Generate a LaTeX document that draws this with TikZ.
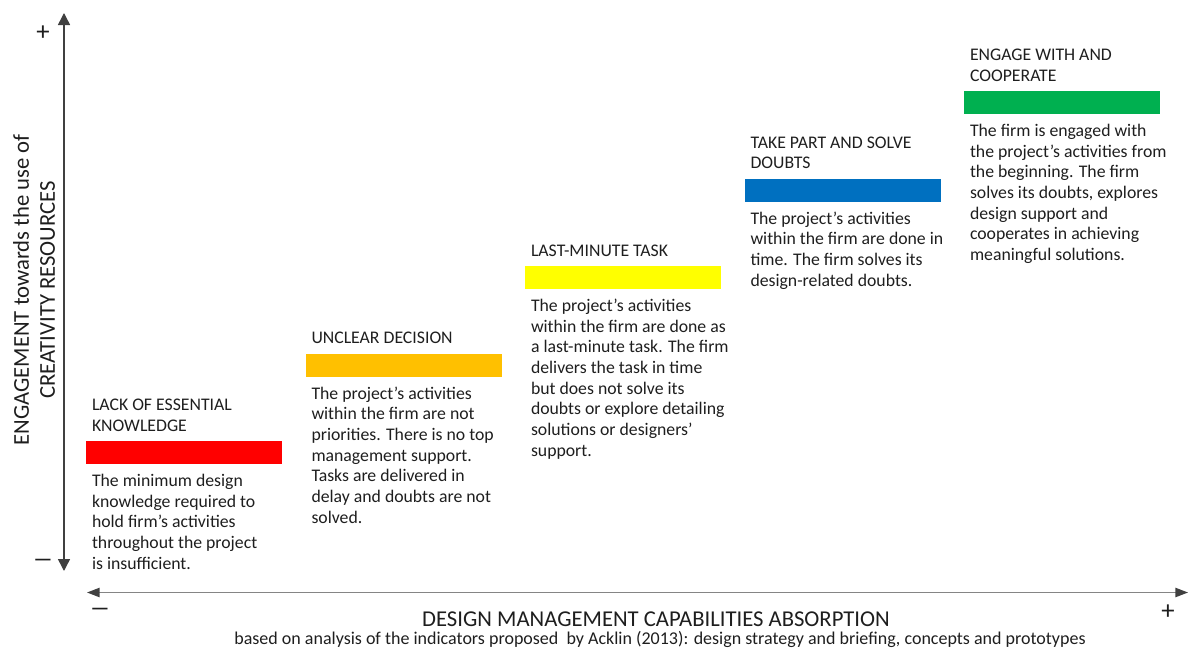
\documentclass[tikz,border=0pt]{standalone}
\usepackage{fontspec}
\setmainfont{Carlito}
\usetikzlibrary{positioning,arrows.meta}
\definecolor{txt}{HTML}{1E1E1E}
\definecolor{axisdark}{HTML}{404040}
\definecolor{axislight}{HTML}{858585}
\definecolor{lackred}{HTML}{FF0000}
\definecolor{unclearamber}{HTML}{FFC000}
\definecolor{lastyellow}{HTML}{FFFF00}
\definecolor{solveblue}{HTML}{0070C0}
\definecolor{engagegreen}{HTML}{00B050}
\begin{document}
\begin{tikzpicture}[x={0.75pt}, y={-0.75pt},
    bar/.style={rectangle, inner sep=0pt, minimum width=147pt, minimum height=17.25pt},
    head/.style={inner sep=0pt, align=left, text=txt, font=\fontsize{13.3}{15.5}\selectfont},
    desc/.style={head},
    sign/.style={inner sep=0pt, text=txt, font=\fontsize{20}{22}\selectfont},
    minus/.style={sign, xscale=1.6}]
  \useasboundingbox (0,0) rectangle (1188,653);
  \coordinate (ytop) at (64,13);
  \coordinate (ybot) at (64,571);
  \coordinate (xleft) at (87,592.5);
  \coordinate (xright) at (1188,592.5);
  \draw[axisdark, line width=1.1pt, {Triangle[length=9pt,width=9pt]}-{Triangle[length=9pt,width=9pt]}] (ybot) -- (ytop);
  \draw[axislight, line width=1.1pt, {Triangle[length=9.5pt,width=7pt,color=axisdark]}-{Triangle[length=9.5pt,width=7pt,color=axisdark]}] (xleft) -- (xright);
  \node[sign] (yplus) at (43,33) {+};
  \node[minus] (yminus) at (43,563) {–};
  \node[minus] (xminus) at (100,612) {–};
  \node[sign] (xplus) at (1168,612.5) {+};
  \node[rotate=90, align=center, text=txt, font=\fontsize{17}{19.5}\selectfont] (ylabel) at (34,290)
    {ENGAGEMENT towards the use of\\CREATIVITY RESOURCES};
  \node[anchor=base, text=txt, inner sep=0pt, font=\fontsize{17}{20}\selectfont] (xlabel) at (656,626.7)
    {DESIGN MANAGEMENT CAPABILITIES ABSORPTION};
  \node[anchor=base, text=txt, inner sep=0pt, font=\fontsize{13.5}{15}\selectfont] (source) at (660,644.5)
    {based on analysis of the indicators proposed\ \ by Acklin (2013): design strategy and briefing, concepts and prototypes};
  \foreach \i/\col/\ttl/\txt in {
      0/lackred/{LACK OF ESSENTIAL\\KNOWLEDGE}/{The minimum design\\knowledge required to\\hold firm’s activities\\throughout the project\\is insufficient.},
      1/unclearamber/{UNCLEAR DECISION}/{The project’s activities\\within the firm are not\\priorities. There is no top\\management support.\\Tasks are delivered in\\delay and doubts are not\\solved.},
      2/lastyellow/{LAST-MINUTE TASK}/{The project’s activities\\within the firm are done as\\a last-minute task. The firm\\delivers the task in time\\but does not solve its\\doubts or explore detailing\\solutions or designers’\\support.},
      3/solveblue/{TAKE PART AND SOLVE\\DOUBTS}/{The project’s activities\\within the firm are done in\\time. The firm solves its\\design-related doubts.},
      4/engagegreen/{ENGAGE WITH AND\\COOPERATE}/{The firm is engaged with\\the project’s activities from\\the beginning. The firm\\solves its doubts, explores\\design support and\\cooperates in achieving\\meaningful solutions.}} {
    \node[bar, fill=\col] (bar\i) at ({184+219.5*\i},{452.5-87.5*\i}) {};
    \node[head, above right=2.1pt and 4.5pt of bar\i.north west] (head\i) {\ttl\strut};
    \node[desc, below right=5.65pt and 4.5pt of bar\i.south west] (text\i) {\strut\txt};
  }
\end{tikzpicture}
\end{document}
